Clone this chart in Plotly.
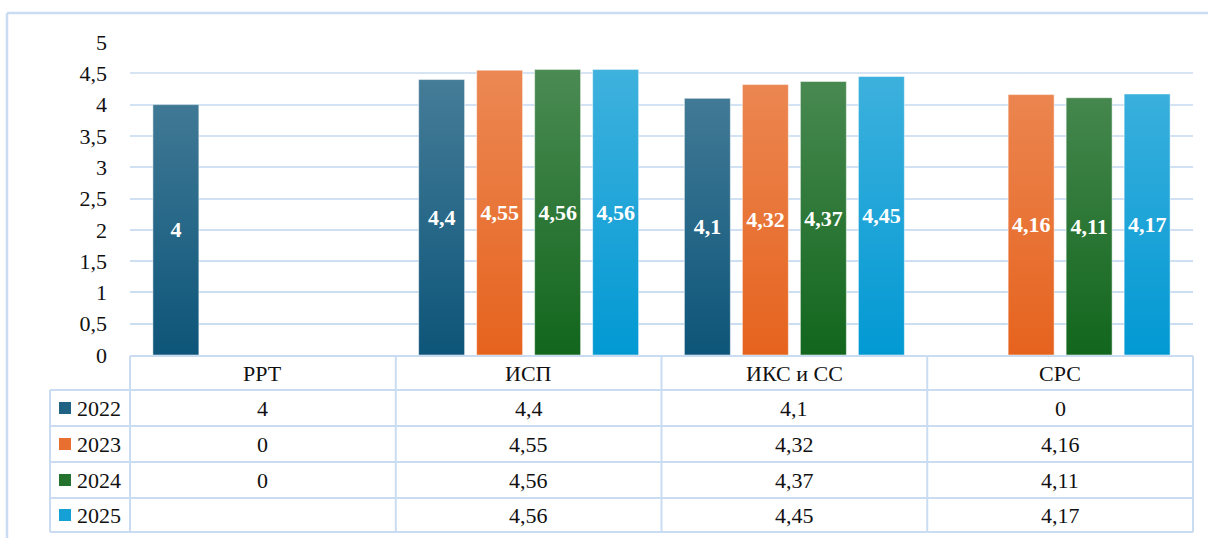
import base64
import plotly.graph_objects as go

categories = ["РРТ", "ИСП", "ИКС и СС", "СРС"]
years = ["2022", "2023", "2024", "2025"]
v2022 = [4, 4.4, 4.1, 0]
v2023 = [0, 4.55, 4.32, 4.16]
v2024 = [0, 4.56, 4.37, 4.11]
v2025 = [None, 4.56, 4.45, 4.17]
series = [v2022, v2023, v2024, v2025]
colors = ["#0d5579", "#e6631e", "#12661d", "#0299d3"]
ytick_vals = [0, 0.5, 1, 1.5, 2, 2.5, 3, 3.5, 4, 4.5, 5]

FONT = "'Liberation Serif', 'Times New Roman', Tinos, 'DejaVu Serif', serif"
FS = 22
LINE = "#c9dcf1"

W, H = 1208, 538
ML, MR, MT, MB = 130, 15, 42, 183
PW, PH = W - ML - MR, H - MT - MB


def fmt(v):
    if v is None:
        return ""
    return str(v).replace(".", ",")


def px(x):
    return (x - ML) / PW


def py(y):
    return (H - MB - y) / PH


fig = go.Figure()
for name, vals, col in zip(years, series, colors):
    fig.add_trace(go.Bar(
        name=name, x=categories, y=vals,
        marker=dict(color=col, line=dict(color="rgba(255,255,255,0.5)", width=1)),
        text=[fmt(v) for v in vals],
        textposition="inside", insidetextanchor="middle",
        constraintext="none",
        textfont=dict(family=FONT, size=FS, color="white", weight="bold"),
        showlegend=False, hoverinfo="skip",
    ))

# soft vertical light gradient overlay (imitates the bars' gradient fill)
top_val = max(v for s in series for v in s if v is not None)
svg = ('<svg xmlns="http://www.w3.org/2000/svg" width="100" height="100" '
       'viewBox="0 0 100 100" preserveAspectRatio="none">'
       '<defs><linearGradient id="g" x1="0" y1="0" x2="0" y2="1">'
       '<stop offset="0" stop-color="#ffffff" stop-opacity="0.24"/>'
       '<stop offset="1" stop-color="#ffffff" stop-opacity="0"/>'
       '</linearGradient></defs>'
       '<rect x="0" y="0" width="100" height="100" fill="url(#g)"/></svg>')
svg_uri = "data:image/svg+xml;base64," + base64.b64encode(svg.encode()).decode()

shapes = []
shapes.append(dict(type="line", xref="paper", yref="paper", x0=px(7), x1=px(W + 5),
                   y0=py(13), y1=py(13), line=dict(color=LINE, width=2.5)))
shapes.append(dict(type="line", xref="paper", yref="paper", x0=px(7), x1=px(7),
                   y0=py(13), y1=py(H + 5), line=dict(color=LINE, width=2.5)))

row_lines = [390, 426, 462, 498, 532]
header_top = 356
ncat = len(categories)
shapes.append(dict(type="line", xref="paper", yref="paper", x0=0, x1=1,
                   y0=py(header_top), y1=py(header_top), line=dict(color=LINE, width=2)))
for yl in row_lines:
    shapes.append(dict(type="line", xref="paper", yref="paper", x0=px(50), x1=1,
                       y0=py(yl), y1=py(yl), line=dict(color=LINE, width=2)))
for k in range(ncat + 1):
    shapes.append(dict(type="line", xref="paper", yref="paper", x0=k / ncat, x1=k / ncat,
                       y0=py(header_top), y1=py(row_lines[-1]), line=dict(color=LINE, width=2)))
shapes.append(dict(type="line", xref="paper", yref="paper", x0=px(50), x1=px(50),
                   y0=py(row_lines[0]), y1=py(row_lines[-1]), line=dict(color=LINE, width=2)))

annotations = []
header_c = (header_top + row_lines[0]) / 2
for c in categories:
    annotations.append(dict(xref="x", yref="paper", x=c, y=py(header_c), text=c,
                            showarrow=False, font=dict(family=FONT, size=FS, color="#111"),
                            xanchor="center", yanchor="middle"))
for r, (name, vals, col) in enumerate(zip(years, series, colors)):
    yc = (row_lines[r] + row_lines[r + 1]) / 2
    shapes.append(dict(type="rect", xref="paper", yref="paper", x0=px(59), x1=px(71),
                       y0=py(yc - 6), y1=py(yc + 6), fillcolor=col, line=dict(width=0),
                       opacity=0.92))
    annotations.append(dict(xref="paper", yref="paper", x=px(75), y=py(yc), text=name,
                            showarrow=False, font=dict(family=FONT, size=FS, color="#111"),
                            xanchor="left", yanchor="middle"))
    for c, v in zip(categories, vals):
        annotations.append(dict(xref="x", yref="paper", x=c, y=py(yc), text=fmt(v),
                                showarrow=False, font=dict(family=FONT, size=FS, color="#111"),
                                xanchor="center", yanchor="middle"))

fig.update_layout(
    width=W, height=H,
    margin=dict(l=ML, r=MR, t=MT, b=MB, autoexpand=False),
    paper_bgcolor="white", plot_bgcolor="white",
    barmode="group", bargap=0.127, bargroupgap=0.207,
    font=dict(family=FONT, size=FS, color="#111"),
    shapes=shapes, annotations=annotations,
    images=[dict(source=svg_uri, xref="paper", yref="y", x=0, y=top_val,
                 sizex=1, sizey=top_val, sizing="stretch", xanchor="left",
                 yanchor="top", layer="above")],
    showlegend=False,
    xaxis=dict(showticklabels=False, showgrid=False, zeroline=False, showline=False,
               ticks=""),
    yaxis=dict(range=[0, 5], tickvals=ytick_vals,
               ticktext=[fmt(v) for v in ytick_vals],
               showgrid=True, gridcolor=LINE, gridwidth=2,
               zeroline=False, showline=False, ticks="",
               ticklabelstandoff=22,
               tickfont=dict(family=FONT, size=FS, color="#111")),
)

fig.write_html("out.html", config={"displayModeBar": False},
               post_script="document.body.style.margin='0';")
